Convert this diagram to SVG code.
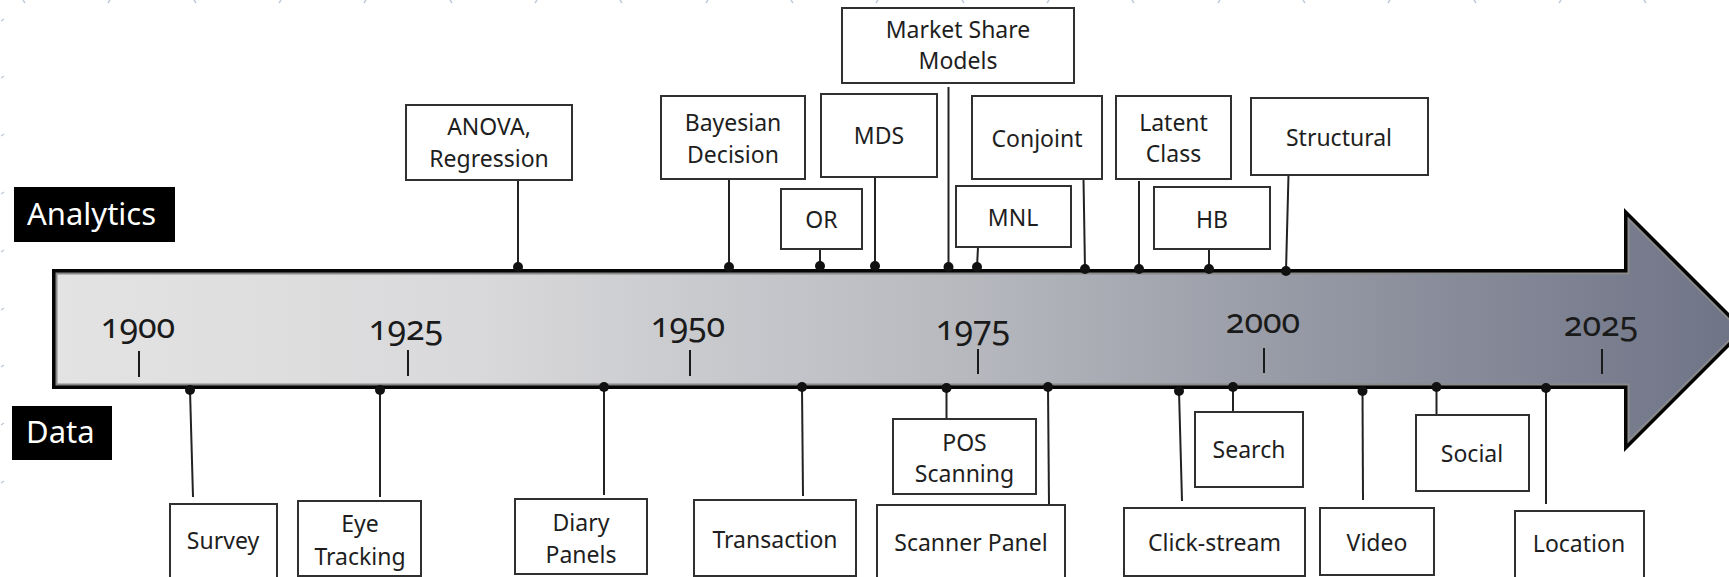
<svg xmlns="http://www.w3.org/2000/svg" width="1729" height="577" viewBox="0 0 1729 577">
  <defs>
    <linearGradient id="shaft" gradientUnits="userSpaceOnUse" x1="52" y1="0" x2="1729" y2="0">
      <stop offset="0" stop-color="#e3e3e3"/>
      <stop offset="0.25" stop-color="#d9d9db"/>
      <stop offset="0.55" stop-color="#b6b8be"/>
      <stop offset="0.8" stop-color="#8d919e"/>
      <stop offset="1" stop-color="#6f7487"/>
    </linearGradient>
    <style>
      text { font-family: "Noto Sans", "Open Sans", sans-serif; fill: #1e1e1e; }
      .box { fill: #ffffff; stroke: #303030; stroke-width: 2; }
      .lbl { font-size: 23px; text-anchor: middle; }
      .year { font-size: 34px; text-anchor: middle; font-variant-numeric: oldstyle-nums; fill: #1a1a1a; }
      .tick { stroke: #1a1a1a; stroke-width: 2; }
      .conn line { stroke: #222222; stroke-width: 2; }
      .conn circle { fill: #111111; }
      .band { fill: #000000; }
      .bandtxt { font-size: 31px; fill: #ffffff; }
      .mark { stroke: #bccbd9; stroke-width: 1.4; fill: none; }
    </style>
  </defs>

  <rect width="1729" height="577" fill="#ffffff"/>

  <!-- faint guide marks along the top and left edges -->
  <g id="grid-marks" class="mark">
    <path d="M23 0l2 3M108 3l2-3M194 0l2 3M279 3l2-3M364 3l2-3M450 0l2 3M535 3l2-3M620 0l2 3M706 3l2-3M791 0l2 3M876 3l2-3M962 0l2 3M1047 3l2-3M1132 0l2 3M1218 3l2-3M1303 0l2 3M1388 3l2-3M1474 0l2 3M1559 3l2-3M1644 0l2 3"/>
    <path d="M1 21l3-2M1 78l3-2M1 136l3-2M1 194l3-2M1 252l3-2M1 310l3-2M1 367l3-2M1 425l3-2M1 483l3-2"/>
  </g>

  <!-- timeline arrow -->
  <g id="timeline">
    <polygon points="52,269 1624,269 1624,208 1746,330 1624,452 1624,389 52,389" fill="#050505"/>
    <polygon points="56.5,273.5 1628.5,273.5 1628.5,219 1739.6,330 1628.5,441 1628.5,384.5 56.5,384.5" fill="url(#shaft)" stroke="#8a8a8a" stroke-width="2"/>
    <line class="tick" x1="139" y1="351" x2="139" y2="377"/>
    <line class="tick" x1="408" y1="350" x2="408" y2="376"/>
    <line class="tick" x1="690" y1="350" x2="690" y2="376"/>
    <line class="tick" x1="978" y1="349" x2="978" y2="374"/>
    <line class="tick" x1="1264" y1="348" x2="1264" y2="373"/>
    <line class="tick" x1="1602" y1="349" x2="1602" y2="374"/>
    <text class="year" x="138" y="338">1900</text>
    <text class="year" x="406" y="340">1925</text>
    <text class="year" x="688" y="337">1950</text>
    <text class="year" x="973" y="340">1975</text>
    <text class="year" x="1263" y="333">2000</text>
    <text class="year" x="1601" y="336">2025</text>
  </g>

  <!-- row labels -->
  <g id="label-analytics">
    <rect class="band" x="14" y="187" width="161" height="55"/>
    <text class="bandtxt" x="27" y="225">Analytics</text>
  </g>
  <g id="label-data">
    <rect class="band" x="12" y="406" width="100" height="54"/>
    <text class="bandtxt" x="26" y="443">Data</text>
  </g>

  <!-- connectors from boxes to the arrow -->
  <g id="connectors" class="conn">
    <line x1="518" y1="180" x2="518" y2="267"/><circle cx="518" cy="267" r="5"/>
    <line x1="729" y1="179" x2="729" y2="267"/><circle cx="729" cy="267" r="5"/>
    <line x1="820" y1="249" x2="820" y2="266"/><circle cx="820" cy="266" r="5"/>
    <line x1="875" y1="177" x2="875" y2="266"/><circle cx="875" cy="266" r="5"/>
    <line x1="948.5" y1="87" x2="948.5" y2="267"/><circle cx="948.5" cy="267" r="5"/>
    <line x1="978" y1="247" x2="977" y2="267"/><circle cx="977" cy="267" r="5"/>
    <line x1="1083.5" y1="179" x2="1085" y2="269"/><circle cx="1085" cy="269" r="5"/>
    <line x1="1139" y1="181" x2="1139" y2="269"/><circle cx="1139" cy="269" r="5"/>
    <line x1="1209" y1="249" x2="1209" y2="269"/><circle cx="1209" cy="269" r="5"/>
    <line x1="1288.5" y1="175" x2="1286" y2="271"/><circle cx="1286" cy="271" r="5"/>

    <line x1="190" y1="390" x2="193" y2="497"/><circle cx="190" cy="390" r="5"/>
    <line x1="380" y1="390" x2="380" y2="497"/><circle cx="380" cy="390" r="5"/>
    <line x1="604" y1="387" x2="604" y2="495"/><circle cx="604" cy="387" r="5"/>
    <line x1="802" y1="387" x2="803" y2="496"/><circle cx="802" cy="387" r="5"/>
    <line x1="946.5" y1="388" x2="946.5" y2="419"/><circle cx="946.5" cy="388" r="5"/>
    <line x1="1048" y1="387" x2="1049" y2="505"/><circle cx="1048" cy="387" r="5"/>
    <line x1="1179" y1="391" x2="1182" y2="501"/><circle cx="1179" cy="391" r="5"/>
    <line x1="1233" y1="387" x2="1233" y2="412"/><circle cx="1233" cy="387" r="5"/>
    <line x1="1362.5" y1="391" x2="1363" y2="500"/><circle cx="1362.5" cy="391" r="5"/>
    <line x1="1436.5" y1="387" x2="1436.5" y2="415"/><circle cx="1436.5" cy="387" r="5"/>
    <line x1="1546" y1="388" x2="1546" y2="504"/><circle cx="1546" cy="388" r="5"/>
  </g>

  <!-- analytics milestones -->
  <g id="anova">
    <rect class="box" x="406" y="105" width="166" height="75"/>
    <text class="lbl" x="489" y="135">ANOVA,</text>
    <text class="lbl" x="489" y="167">Regression</text>
  </g>
  <g id="bayesian">
    <rect class="box" x="661" y="96" width="144" height="83"/>
    <text class="lbl" x="733" y="131">Bayesian</text>
    <text class="lbl" x="733" y="163">Decision</text>
  </g>
  <g id="or">
    <rect class="box" x="781" y="189" width="81" height="60"/>
    <text class="lbl" x="821.5" y="228">OR</text>
  </g>
  <g id="mds">
    <rect class="box" x="821" y="94" width="116" height="83"/>
    <text class="lbl" x="879" y="144">MDS</text>
  </g>
  <g id="market-share">
    <rect class="box" x="842" y="8" width="232" height="75"/>
    <text class="lbl" x="958" y="38">Market Share</text>
    <text class="lbl" x="958" y="69">Models</text>
  </g>
  <g id="mnl">
    <rect class="box" x="956" y="186" width="115" height="61"/>
    <text class="lbl" x="1013" y="226">MNL</text>
  </g>
  <g id="conjoint">
    <rect class="box" x="972" y="96" width="130" height="83"/>
    <text class="lbl" x="1037" y="147">Conjoint</text>
  </g>
  <g id="latent-class">
    <rect class="box" x="1116" y="96" width="115" height="83"/>
    <text class="lbl" x="1173.5" y="131">Latent</text>
    <text class="lbl" x="1173.5" y="162">Class</text>
  </g>
  <g id="hb">
    <rect class="box" x="1154" y="187" width="116" height="62"/>
    <text class="lbl" x="1212" y="228">HB</text>
  </g>
  <g id="structural">
    <rect class="box" x="1251" y="98" width="177" height="77"/>
    <text class="lbl" x="1339" y="146">Structural</text>
  </g>

  <!-- data milestones -->
  <g id="survey">
    <rect class="box" x="170" y="504" width="107" height="80"/>
    <text class="lbl" x="223" y="549">Survey</text>
  </g>
  <g id="eye-tracking">
    <rect class="box" x="298" y="501" width="123" height="75"/>
    <text class="lbl" x="360" y="532">Eye</text>
    <text class="lbl" x="360" y="565">Tracking</text>
  </g>
  <g id="diary-panels">
    <rect class="box" x="515" y="499" width="132" height="75"/>
    <text class="lbl" x="581" y="531">Diary</text>
    <text class="lbl" x="581" y="563">Panels</text>
  </g>
  <g id="transaction">
    <rect class="box" x="694" y="500" width="162" height="76"/>
    <text class="lbl" x="775" y="548">Transaction</text>
  </g>
  <g id="pos-scanning">
    <rect class="box" x="893" y="419" width="143" height="75"/>
    <text class="lbl" x="964.5" y="451">POS</text>
    <text class="lbl" x="964.5" y="482">Scanning</text>
  </g>
  <g id="scanner-panel">
    <rect class="box" x="877" y="505" width="188" height="80"/>
    <text class="lbl" x="971" y="551">Scanner Panel</text>
  </g>
  <g id="click-stream">
    <rect class="box" x="1124" y="508" width="181" height="68"/>
    <text class="lbl" x="1214.5" y="551">Click-stream</text>
  </g>
  <g id="search">
    <rect class="box" x="1195" y="412" width="108" height="75"/>
    <text class="lbl" x="1249" y="458">Search</text>
  </g>
  <g id="video">
    <rect class="box" x="1320" y="508" width="114" height="67"/>
    <text class="lbl" x="1377" y="551">Video</text>
  </g>
  <g id="social">
    <rect class="box" x="1416" y="415" width="113" height="76"/>
    <text class="lbl" x="1472" y="462">Social</text>
  </g>
  <g id="location">
    <rect class="box" x="1515" y="511" width="129" height="80"/>
    <text class="lbl" x="1579" y="552">Location</text>
  </g>
</svg>
